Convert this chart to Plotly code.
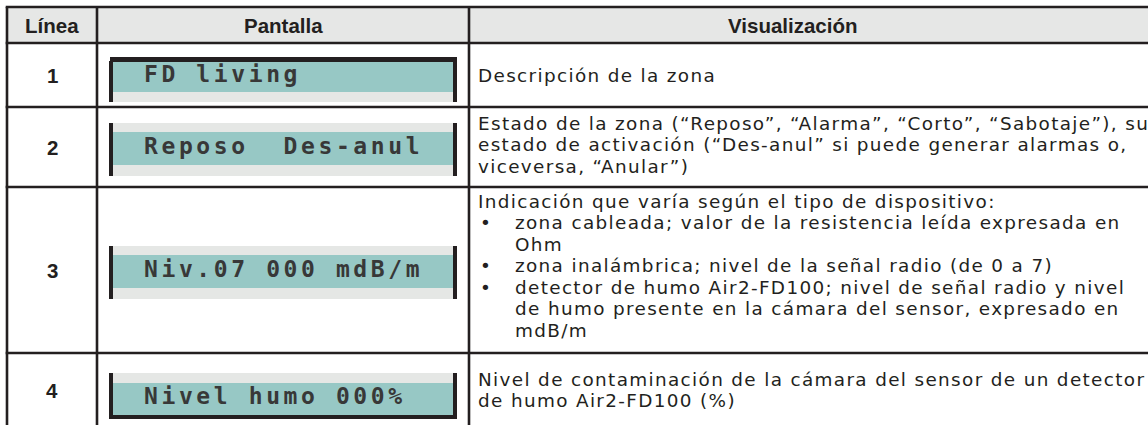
import plotly.graph_objects as go

# ---------------- data ----------------
headers = ["Línea", "Pantalla", "Visualización"]
line_numbers = ["1", "2", "3", "4"]
display_texts = ["FD living", "Reposo  Des-anul", "Niv.07 000 mdB/m", "Nivel humo 000%"]
descriptions = [
    ["Descripción de la zona"],
    ["Estado de la zona (“Reposo”, “Alarma”, “Corto”, “Sabotaje”), su",
     "estado de activación (“Des-anul” si puede generar alarmas o,",
     "viceversa, “Anular”)"],
    ["Indicación que varía según el tipo de dispositivo:",
     "• zona cableada; valor de la resistencia leída expresada en",
     "  Ohm",
     "• zona inalámbrica; nivel de la señal radio (de 0 a 7)",
     "• detector de humo Air2-FD100; nivel de señal radio y nivel",
     "  de humo presente en la cámara del sensor, expresado en",
     "  mdB/m"],
    ["Nivel de contaminación de la cámara del sensor de un detector",
     "de humo Air2-FD100 (%)"],
]
display_frames = ["top", "open", "open", "bottom"]

# ---------------- layout / style ----------------
W, H = 1148, 425
LINE = "#231f20"
HEADER_BG = "#e6e7e6"
TEAL = "#97c8c5"
BAND = "#e5e7e5"
LCD_INK = "#383838"

col_edges = [7, 97, 469]
header_centers = [52, 283, 793]
table_top = 7
row_edges = [43, 107, 187, 353, 427]
row_text_shift = [0, -2.5, -4.5, 0]
text_x = 477
bullet_x = 479
indent_x = 514
line_h = 21.5
BODY_SIZE = 18.4
BODY_TRACK = 1.35
lcd_x0, lcd_x1, bar = 109, 457, 4

# vertical structure of the LCD relative to the row centre
frame_specs = {
    "top":    [("k", -18, -13), ("t", -13, 17), ("g", 17, 27)],
    "open":   [("g", -24, -15), ("t", -15, 18), ("g", 18, 29)],
    "bottom": [("g", -17, -7), ("t", -7, 25), ("k", 25, 29)],
}
fill_of = {"k": LINE, "t": TEAL, "g": BAND}

shapes = []
annotations = []


def rect(x0, y0, x1, y1, color):
    shapes.append(dict(type="rect", xref="x", yref="y", x0=x0, x1=x1, y0=y0, y1=y1,
                       fillcolor=color, line=dict(width=0), layer="above"))


def hline(y, x0, x1):
    shapes.append(dict(type="line", xref="x", yref="y", x0=x0, x1=x1, y0=y, y1=y,
                       line=dict(color=LINE, width=2.6), layer="above"))


def vline(x, y0, y1):
    shapes.append(dict(type="line", xref="x", yref="y", x0=x, x1=x, y0=y0, y1=y1,
                       line=dict(color=LINE, width=2.6), layer="above"))


def text(x, y, s, size, family, color=LINE, anchor="left", bold=False):
    annotations.append(dict(x=x, y=y, xref="x", yref="y", text=(f"<b>{s}</b>" if bold else s),
                            showarrow=False, xanchor=anchor, yanchor="middle", borderpad=0,
                            font=dict(size=size, family=family, color=color)))


def tracked(s, px):
    return f'<span style="letter-spacing:{px}px">{s}</span>'


# header background
rect(table_top, table_top, W + 5, row_edges[0], HEADER_BG)

# header labels
for hx, label in zip(header_centers, headers):
    text(hx, (table_top + row_edges[0]) / 2 + 0.5, label, 20.5, "Liberation Sans, Arial",
         anchor="center", bold=True)

BODY = "DejaVu Sans, Verdana, sans-serif"
for i in range(len(line_numbers)):
    top, bottom = row_edges[i], row_edges[i + 1]
    c = (top + bottom) / 2
    if i == 3:
        c = 390
    # line number
    text(col_edges[0] + (col_edges[1] - col_edges[0]) / 2, c, line_numbers[i], 20.5,
         "Liberation Sans, Arial", anchor="center", bold=True)

    # LCD display
    spec = frame_specs[display_frames[i]]
    ys = []
    teal_mid = c
    for kind, a, b in spec:
        x0 = lcd_x0 + bar if kind != "k" else lcd_x0 + 1
        x1 = lcd_x1 - bar if kind != "k" else lcd_x1
        rect(x0, c + a, x1, c + b, fill_of[kind])
        ys += [c + a, c + b]
        if kind == "t":
            teal_mid = c + (a + b) / 2
    rect(lcd_x0, min(ys) + (4 if display_frames[i] == "top" else 0), lcd_x0 + bar, max(ys), LINE)
    rect(lcd_x1 - bar, min(ys), lcd_x1, max(ys), LINE)
    lcd_str = display_texts[i].replace(" ", "\u00a0")
    text(143, teal_mid - 3, tracked(lcd_str, 3.6), 23,
         "DejaVu Sans Mono, monospace", color=LCD_INK, bold=True)

    # description lines
    lines = descriptions[i]
    n = len(lines)
    cc = c + row_text_shift[i]
    for k, ln in enumerate(lines):
        y = cc + (k - (n - 1) / 2) * line_h
        if ln.startswith("• "):
            text(bullet_x, y, "•", BODY_SIZE, BODY)
            text(indent_x, y, tracked(ln[2:], BODY_TRACK), BODY_SIZE, BODY)
        elif ln.startswith("  "):
            text(indent_x, y, tracked(ln[2:], BODY_TRACK), BODY_SIZE, BODY)
        else:
            text(text_x, y, tracked(ln, BODY_TRACK), BODY_SIZE, BODY)

# grid lines
for y in [table_top] + row_edges[:-1]:
    hline(y, col_edges[0] - 1.3, W + 5)
for x in col_edges:
    vline(x, table_top, row_edges[-1])

fig = go.Figure()
fig.update_layout(
    width=W, height=H, autosize=False,
    margin=dict(l=0, r=0, t=0, b=0, pad=0),
    paper_bgcolor="white", plot_bgcolor="white",
    xaxis=dict(range=[0, W], visible=False, fixedrange=True),
    yaxis=dict(range=[H, 0], visible=False, fixedrange=True),
    shapes=shapes, annotations=annotations, showlegend=False,
)
fig.write_html("out.html", config={"displayModeBar": False},
               post_script="document.body.style.margin='0px';document.body.style.overflow='hidden';")
